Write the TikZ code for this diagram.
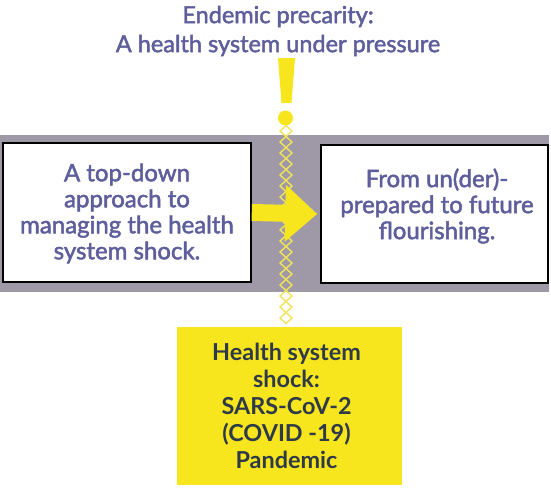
\documentclass[tikz,border=0pt]{standalone}
\usepackage{fontspec}
\setmainfont{Lato}
\newfontfamily\medfont{Lato}[FakeBold=2]
\usetikzlibrary{arrows.meta,shapes.geometric}
\definecolor{txtpurple}{HTML}{5E5E9C}
\definecolor{bandgrey}{HTML}{9E98A7}
\definecolor{ylw}{HTML}{F7E51E}
\definecolor{ylwline}{HTML}{F1E35C}
\definecolor{darktxt}{HTML}{2F3A48}
\tikzset{
  purpletxt/.style={text=txtpurple, font=\medfont\fontsize{24}{26}\selectfont, align=center, inner sep=0pt},
  whitebox/.style={draw=black, line width=1.5pt, fill=white, inner sep=0pt},
  yellowbox/.style={fill=ylw, inner sep=0pt},
  chaindia/.style={draw=ylwline, line width=1.4pt},
  bigarrow/.style={draw=ylw, line width=17pt, -{Triangle[width=55pt,length=32pt]}}
}
\begin{document}
\begin{tikzpicture}[x=1pt,y=-1pt]
\useasboundingbox (0,0) rectangle (551,498);
% grey band
\fill[bandgrey] (0,135) rectangle (549,292);
% title
\node[text=txtpurple, font=\medfont\fontsize{23.5}{29}\selectfont, align=center, inner sep=0pt] (title) at (278,31) {Endemic precarity:\\A health system under pressure};
% exclamation mark
\fill[ylw] (278,58) -- (295,58) -- (291.5,103) -- (281.5,103) -- cycle;
\fill[ylw] (285.5,118) circle (7.5);
% diamond chain
\foreach \yy in {131,142,...,325} {
  \draw[chaindia] (286,\yy-5.5) -- (292,\yy) -- (286,\yy+5.5) -- (280,\yy) -- cycle;
}
% boxes
\node[whitebox, minimum width=248pt, minimum height=139pt] (left) at (127,212.5) {};
\node[whitebox, minimum width=227pt, minimum height=138pt] (right) at (434.5,214) {};
\node[purpletxt] (ltext) at (127,213.5) {A top-down\\approach to\\managing the health\\system shock.};
\node[purpletxt] (rtext) at (437,206) {From un(der)-\\prepared to future\\flourishing.};
% yellow arrow
\draw[bigarrow] (left.east) -- ([xshift=-3pt]right.west);
% yellow box
\node[yellowbox, minimum width=225pt, minimum height=158pt] (shock) at (289.5,406) {};
\node[text=darktxt, font=\bfseries\fontsize{23.4}{27}\selectfont, align=center, inner sep=0pt] (shocktext) at (286.5,406) {Health system\\shock:\\SARS-CoV-2\\(COVID -19)\\Pandemic};
\end{tikzpicture}
\end{document}
